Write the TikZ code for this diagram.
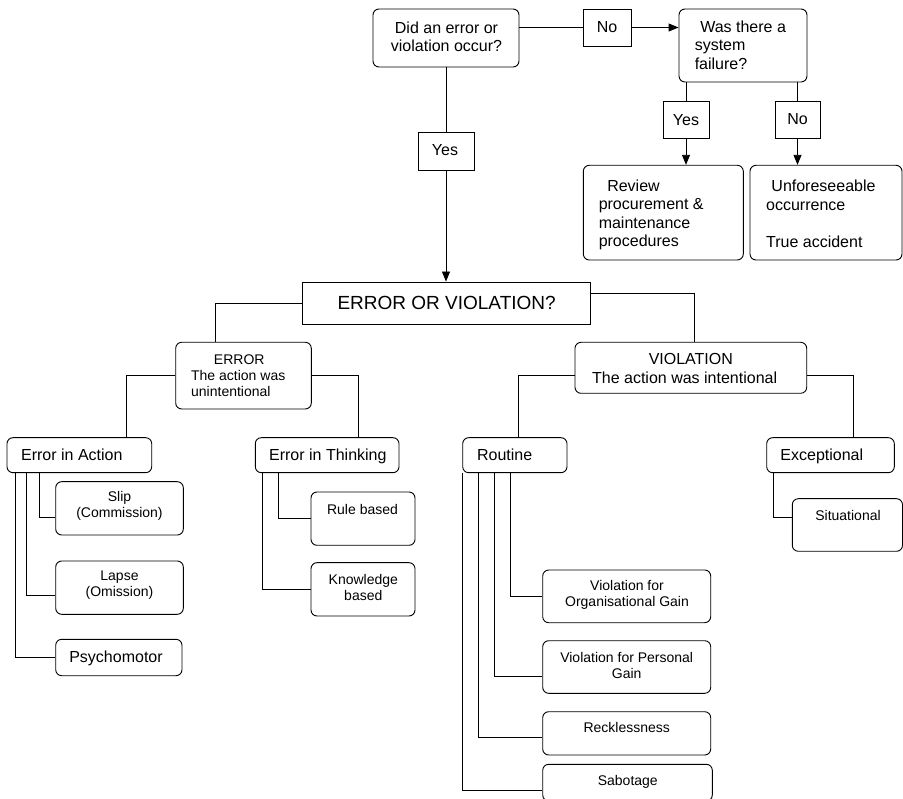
\documentclass[tikz,border=0pt]{standalone}
\usepackage{fontspec}
\setmainfont{Liberation Sans}
\usetikzlibrary{arrows.meta,fit}
\begin{document}
\begin{tikzpicture}[x=1pt,y=-1pt,
  line width=0.9pt,
  rbox/.style={draw, rounded corners=6pt, inner sep=0pt},
  sbox/.style={draw, inner sep=0pt},
  fa/.style={font=\fontsize{16}{18.4}\selectfont},
  fb/.style={font=\fontsize{14}{16.2}\selectfont},
  fc/.style={font=\fontsize{19}{22}\selectfont},
  txt/.style={inner sep=0pt},
  arr/.style={-{Triangle[length=10pt,width=8pt]}},
]
\path[use as bounding box, fill=white] (0,0) rectangle (903,799);

% --- top decision part ---
\node[rbox, fit={(373,9) (519,67)}] (q1) {};
\node[txt, fa, align=center] (q1t) at (446.5,36.5) {Did an error or\\violation occur?};
\node[sbox, fit={(583,9) (631,46)}] (no1) {};
\node[txt, fa] (no1t) at (607,27.5) {No};
\node[rbox, fit={(679,9) (807,82)}] (q2) {};
\node[txt, fa, align=left, anchor=west] (q2t) at (694.3,45) {\hspace*{5.5pt}Was there a\\system\\failure?};
\node[sbox, fit={(663,101) (709,138)}] (yes2) {};
\node[txt, fa] (yes2t) at (686,120) {Yes};
\node[sbox, fit={(775,101) (820,138)}] (no2) {};
\node[txt, fa] (no2t) at (797.5,119.5) {No};
\node[rbox, fit={(583.3,165.3) (743.3,260)}] (rev) {};
\node[txt, fa, align=left, anchor=west] (revt) at (598.3,215) {\hspace*{8.5pt}Review\\procurement \&\\maintenance\\procedures};
\node[rbox, fit={(750,165.3) (902,260)}] (unf) {};
\node[txt, fa, align=left, anchor=west] (unft) at (765.7,213.7) {\hspace*{5.3pt}Unforeseeable\\occurrence\\[18.4pt]True accident};
\node[sbox, fit={(418,132.3) (474,170)}] (yes1) {};
\node[txt, fa] (yes1t) at (445,150) {Yes};

% --- classification ---
\node[sbox, fit={(302.7,282) (590.7,324.3)}] (eov) {};
\node[txt, fc] (eovt) at (446.6,303) {ERROR OR VIOLATION?};
\node[rbox, fit={(175.7,342.3) (311.3,409)}] (err) {};
\node[txt, fb, align=left, anchor=west] (errt) at (190.7,375.6) {\hspace*{22.8pt}ERROR\\The action was\\unintentional};
\node[rbox, fit={(575,342.3) (806.7,393.3)}] (vio) {};
\node[txt, fa, align=left, anchor=west] (viot) at (591.7,368.5) {\hspace*{56.6pt}VIOLATION\\The action was intentional};

% --- error branch ---
\node[rbox, fit={(7,437.7) (151.7,472.7)}] (ain) {};
\node[txt, fa, anchor=west] (aint) at (20.7,455) {Error in Action};
\node[rbox, fit={(255.3,437.7) (399,472.7)}] (ait) {};
\node[txt, fa, anchor=west] (aitt) at (268.7,456.5) {Error in Thinking};
\node[rbox, fit={(55.7,481.7) (183.3,535)}] (slip) {};
\node[txt, fb, align=center] (slipt) at (119.5,506) {Slip\\(Commission)};
\node[rbox, fit={(55.7,561) (183.3,614.3)}] (lapse) {};
\node[txt, fb, align=center] (lapset) at (119.5,585.5) {Lapse\\(Omission)};
\node[rbox, fit={(55.7,639.3) (182,675.7)}] (psy) {};
\node[txt, fa] (psyt) at (116,658) {Psychomotor};
\node[rbox, fit={(311,492) (415,545.3)}] (rule) {};
\node[txt, fb] (rulet) at (362.5,509) {Rule based};
\node[rbox, fit={(311,562.7) (415,616)}] (know) {};
\node[txt, fb, align=center] (knowt) at (363.3,587.7) {Knowledge\\based};

% --- violation branch ---
\node[rbox, fit={(462.7,437.7) (567,472.7)}] (rou) {};
\node[txt, fa, anchor=west] (rout) at (476.7,455) {Routine};
\node[rbox, fit={(766.7,437.7) (894.3,472.7)}] (exc) {};
\node[txt, fa, anchor=west] (exct) at (780,456.5) {Exceptional};
\node[rbox, fit={(792.3,498.7) (902.5,551.3)}] (sit) {};
\node[txt, fb] (sitt) at (848,515) {Situational};
\node[rbox, fit={(542.7,570) (710.7,622.7)}] (org) {};
\node[txt, fb, align=center] (orgt) at (627,595) {Violation for\\Organisational Gain};
\node[rbox, fit={(542.7,640.7) (710.7,693.3)}] (pers) {};
\node[txt, fb, align=center] (perst) at (626.7,665.5) {Violation for Personal\\Gain};
\node[rbox, fit={(542.7,711.7) (710.7,755)}] (reck) {};
\node[txt, fb] (reckt) at (626.7,727.7) {Recklessness};
\node[rbox, fit={(542.7,764.3) (712.3,801)}] (sab) {};
\node[txt, fb] (sabt) at (627.8,782) {Sabotage};

% --- connectors: decisions ---
\draw (q1.east |- no1.west) -- (no1.west);
\draw[arr] (no1.east) -- (no1.east -| q2.west);
\draw (q1.south) -- (q1.south |- yes1.north);
\draw[arr] (yes1.south) -- (yes1.south |- eov.north);
\draw (yes2.north |- q2.south) -- (yes2.north);
\draw[arr] (yes2.south) -- (yes2.south |- rev.north);
\draw (no2.north |- q2.south) -- (no2.north);
\draw[arr] (no2.south) -- (no2.south |- unf.north);

% --- connectors: tree ---
\draw (eov.west) -| ([xshift=40pt]err.north west);
\draw ([yshift=-12.2pt]eov.north east) -| ([xshift=120pt]vio.north west);
\draw (err.west) -| ([xshift=120.3pt]ain.north west);
\draw (err.east) -| ([xshift=103.7pt]ait.north west);
\draw ([yshift=-8pt]vio.west) -| ([xshift=56.3pt]rou.north west);
\draw ([yshift=-8pt]vio.east) -| ([xshift=87.6pt]exc.north west);

\draw ([xshift=32.7pt]ain.south west) |- ([yshift=-8.7pt]slip.west);
\draw ([xshift=19.7pt]ain.south west) |- ([yshift=-7.3pt]lapse.west);
\draw ([xshift=8.7pt]ain.south west) |- (psy.west);
\draw ([xshift=24pt]ait.south west) |- (rule.west);
\draw ([xshift=8pt]ait.south west) |- (know.west);

\draw ([xshift=48pt]rou.south west) |- (org.west);
\draw ([xshift=32.3pt]rou.south west) |- ([yshift=-9pt]pers.west);
\draw ([xshift=16.3pt]rou.south west) |- ([yshift=-4.4pt]reck.west);
\draw (rou.south west) |- ([yshift=-8pt]sab.west);
\draw ([xshift=7.6pt]exc.south west) |- ([yshift=7.7pt]sit.west);
\end{tikzpicture}
\end{document}
